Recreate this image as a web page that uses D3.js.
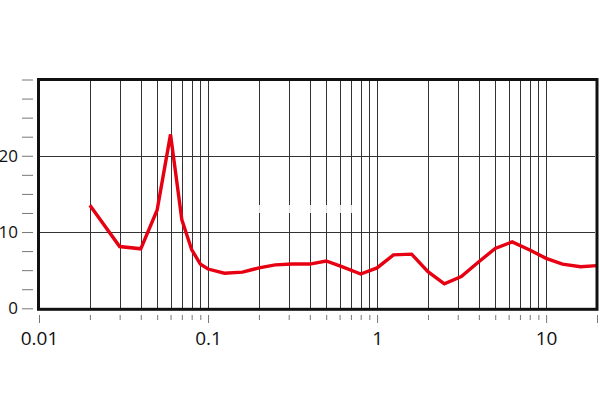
<!DOCTYPE html>
<html><head><meta charset="utf-8">
<script src="https://cdn.jsdelivr.net/npm/d3@7/dist/d3.min.js"></script>
<style>
html,body{margin:0;padding:0;background:#fff;}
svg{display:block;}
text{font-family:"Open Sans","Liberation Sans",sans-serif;fill:#111;}
</style></head>
<body>
<svg id="chart" width="600" height="420"></svg>
<script>
// Data
const freq = [0.02,0.03,0.04,0.05,0.06,0.07,0.08,0.09,0.1,0.125,0.16,0.2,0.25,0.315,0.4,0.5,0.63,0.8,1,1.25,1.6,2,2.5,3.15,4,5,6.3,8,10,12.5,16,20];
const values = [13.5,8.1,7.8,12.9,22.8,11.6,7.7,5.8,5.15,4.6,4.75,5.3,5.7,5.8,5.8,6.2,5.4,4.5,5.3,7.0,7.1,4.8,3.2,4.15,6.1,7.85,8.7,7.65,6.55,5.8,5.45,5.6];
const xMajorTicks = [0.01,0.1,1,10];
const xTickLabels = ["0.01","0.1","1","10"];
const xMinorTicks = [0.02,0.03,0.04,0.05,0.06,0.07,0.08,0.09,0.2,0.3,0.4,0.5,0.6,0.7,0.8,0.9,2,3,4,5,6,7,8,9];
const yTicks = [0,2.5,5,7.5,10,12.5,15,17.5,20,22.5,25,27.5,30];
const yTickLabels = ["0","10","20"];
const yGrid = [10,20];

const svg = d3.select("#chart");
const L = 39, R = 597, T = 79.5, B = 308.3;
const x = d3.scaleLog().domain([0.01,20]).range([L,R]);
const y = d3.scaleLinear().domain([0,30]).range([B,T]);

// vertical grid lines
svg.append("g").selectAll("line")
  .data(xMinorTicks.concat([0.1,1,10]))
  .join("line")
  .attr("x1",d=>Math.round(x(d))+0.5).attr("x2",d=>Math.round(x(d))+0.5)
  .attr("y1",T).attr("y2",B)
  .attr("stroke","#333").attr("stroke-width",1);

// horizontal grid lines
svg.append("g").selectAll("line")
  .data(yGrid).join("line")
  .attr("x1",L).attr("x2",R-2)
  .attr("y1",d=>Math.round(y(d))+0.5).attr("y2",d=>Math.round(y(d))+0.5)
  .attr("stroke","#333").attr("stroke-width",1);

// faint white patch over grid (as in reference)
svg.append("rect").attr("x",256).attr("y",205).attr("width",105).attr("height",8)
  .attr("fill","#fff").attr("opacity",0.85);

// curve
const line = d3.line().x((d,i)=>x(freq[i])).y(d=>y(d));
svg.append("path").datum(values)
  .attr("d",line).attr("fill","none")
  .attr("stroke","#e60012").attr("stroke-width",3.4)
  .attr("stroke-linejoin","miter").attr("stroke-linecap","butt");

// frame
svg.append("rect").attr("x",L-0.5).attr("y",T).attr("width",R-L+0.5).attr("height",B-T+1)
  .attr("fill","none").attr("stroke","#111").attr("stroke-width",3);

// bottom axis
const xAxis = d3.axisBottom(x)
  .tickValues(xMajorTicks.concat([20]))
  .tickSize(8).tickPadding(4)
  .tickFormat(d=>{const i = xMajorTicks.indexOf(d); return i>=0 ? xTickLabels[i] : "";});
const gx = svg.append("g").attr("transform",`translate(0,315)`).call(xAxis);
gx.select(".domain").remove();
gx.selectAll(".tick line").attr("stroke","#777");
gx.selectAll(".tick text").attr("font-size","19px").attr("dy","0.95em").attr("fill","#111");
const gxm = svg.append("g").attr("transform",`translate(0,315)`)
  .call(d3.axisBottom(x).tickValues(xMinorTicks).tickSize(5).tickFormat(""));
gxm.select(".domain").remove();
gxm.selectAll(".tick line").attr("stroke","#777");

// left axis
const yAxis = d3.axisLeft(y).tickValues(yTicks).tickSize(11).tickPadding(4)
  .tickFormat(d=>{const s = String(d); return yTickLabels.includes(s) ? s : "";});
const gy = svg.append("g").attr("transform",`translate(33,0)`).call(yAxis);
gy.select(".domain").remove();
gy.selectAll(".tick line").attr("stroke","#777");
gy.selectAll(".tick text").attr("font-size","17px").attr("fill","#111");
</script>
</body></html>
